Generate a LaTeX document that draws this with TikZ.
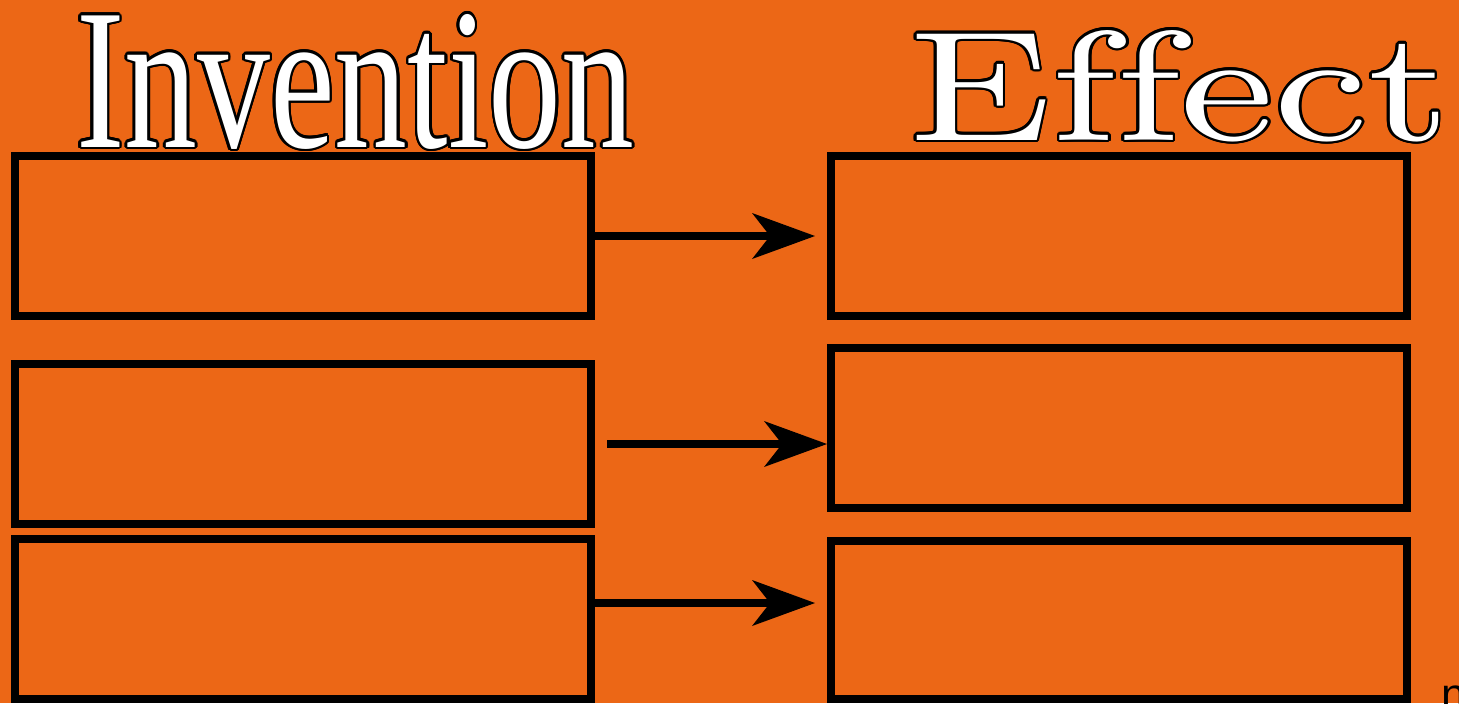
\documentclass[tikz,border=0pt]{standalone}
\usepackage{fontspec}
\usetikzlibrary{arrows.meta}
\newfontfamily\sansr{Liberation Sans}
\newfontfamily\invfont{Liberation Serif}
\newfontfamily\efffont{lmroman8-regular}[Extension=.otf]
\definecolor{bgorange}{RGB}{236,103,22}
\tikzset{
  boxnode/.style={draw=black, line width=4pt, minimum width=288pt, minimum height=80pt, inner sep=0pt, outer sep=0pt},
  arr/.style={line width=4pt, -{Stealth[length=31.5pt, width=23pt, inset=9pt, line width=0pt]}},
  title/.style={anchor=base west, inner sep=0pt, outer sep=0pt},
  shadow/.style={title, text=black},
  face/.style={title, text=white}
}
\newcommand\invtext{\resizebox{279pt}{66.5pt}{\invfont Invention}}
\newcommand\efftext{\resizebox{271pt}{55pt}{\efffont Ef\kern0pt fect}}
\begin{document}
\begin{tikzpicture}[x=0.5pt, y=-0.5pt]
\fill[bgorange] (0,0) rectangle (1459,703);
\useasboundingbox (0,0) rectangle (1459,703);
% boxes
\node[boxnode] (L1) at (303,236) {};
\node[boxnode] (L2) at (303,444) {};
\node[boxnode] (L3) at (303,619) {};
\node[boxnode] (R1) at (1119,236) {};
\node[boxnode, minimum height=80.25pt] (R2) at (1119,427.75) {};
\node[boxnode, minimum height=79pt] (R3) at (1119,620) {};
% arrows
\draw[arr, shorten >=8pt] (L1.east) -- (L1.east -| R1.west);
\draw[arr, shorten <=8pt, shorten >=2pt] (L2.east) -- (L2.east -| R2.west);
\draw[arr, shorten >=8pt] ([yshift=8pt]L3.east) -- ([yshift=8pt]L3.east -| R3.west);
% titles: outline made from black copies, then white face
\coordinate (invpos) at (76,147);
\coordinate (effpos) at (908,140);
\foreach \ang [count=\k] in {0,22.5,...,337.5}{
  \node[shadow] (invsh\k) at ([shift={(\ang:1.3pt)}]invpos) {\invtext};
  \node[shadow] (effsh\k) at ([shift={(\ang:1.3pt)}]effpos) {\efftext};
}
\node[face] (inv) at (invpos) {\invtext};
\node[face] (eff) at (effpos) {\efftext};
% cut-off letter
\node[title, font=\sansr\fontsize{22pt}{26pt}\selectfont] (rr) at (1441,709) {n};
\end{tikzpicture}
\end{document}
